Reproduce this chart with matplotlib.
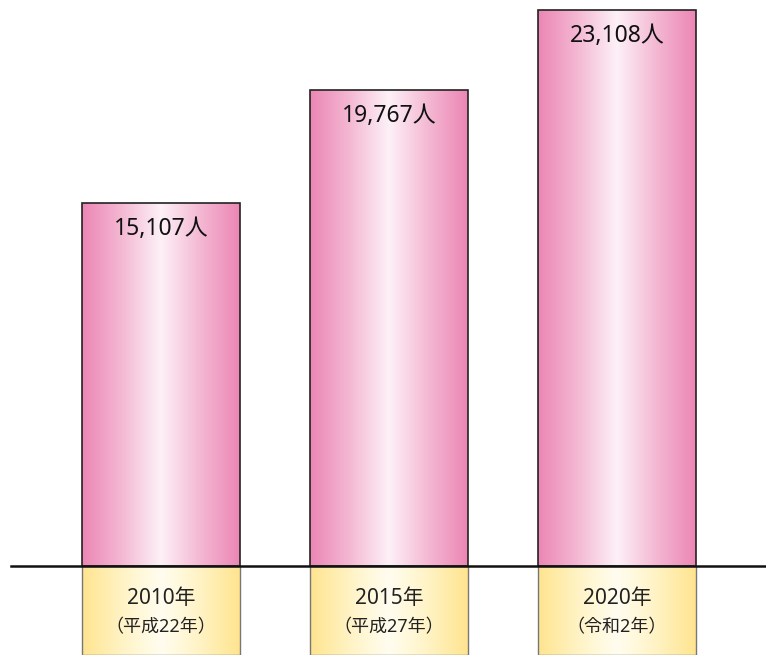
import numpy as np
import matplotlib
matplotlib.use("Agg")
import matplotlib.pyplot as plt
from matplotlib.colors import LinearSegmentedColormap

plt.rcParams['font.family'] = ['Noto Sans', 'Noto Sans CJK JP', 'DejaVu Sans']

years = ["2010年", "2015年", "2020年"]
eras = ["（平成22年）", "（平成27年）", "（令和2年）"]
values = [15107, 19767, 23108]
labels = ["15,107人", "19,767人", "23,108人"]

W, H = 766, 655
fig = plt.figure(figsize=(W / 100, H / 100), dpi=100)
ax = fig.add_axes([0, 0, 1, 1])

per_px = 41.56          # people per pixel
base_px = 89            # baseline height from bottom
ymin = -base_px * per_px
ymax = (H - base_px) * per_px

pink = LinearSegmentedColormap.from_list("pink", ["#ec86b4", "#f4b8d3", "#fdf1f7", "#f4b8d3", "#ec86b4"])
yellow = LinearSegmentedColormap.from_list("yel", ["#ffe48f", "#fff3c4", "#fffdf0", "#fff3c4", "#ffe48f"])
grad = np.linspace(0, 1, 256).reshape(1, -1)

x = np.arange(len(values))
width = 0.693

bars = ax.bar(x, values, width, facecolor="none", edgecolor="#222222", linewidth=1.2, zorder=3)
boxes = ax.bar(x, [ymin] * len(values), width, facecolor="none", edgecolor="#777777", linewidth=1.0, zorder=3)

for b in list(bars) + list(boxes):
    cm = pink if b in bars else yellow
    x0, y0 = b.get_x(), b.get_y()
    w, h = b.get_width(), b.get_height()
    im = ax.imshow(grad, cmap=cm, aspect="auto", extent=(x0, x0 + w, min(y0, y0 + h), max(y0, y0 + h)), zorder=2)
    im.set_clip_path(b)

ax.set_xlim(-0.706, 2.654)
ax.set_ylim(ymin, ymax)
ax.axis("off")

ax.plot([-0.658, 2.654], [0, 0], color="#111111", linewidth=1.8, zorder=4)

for xi, v, lab in zip(x, values, labels):
    ax.annotate(lab, (xi, v), xytext=(0, -26), textcoords="offset pixels",
                ha="center", va="center", fontsize=16.5, color="#111111", zorder=5)

for xi, yr, era in zip(x, years, eras):
    ax.annotate(yr, (xi, 0), xytext=(0, -33), textcoords="offset pixels",
                ha="center", va="center", fontsize=15, color="#222222", zorder=5)
    ax.annotate(era, (xi, 0), xytext=(0, -61), textcoords="offset pixels",
                ha="center", va="center", fontsize=13, color="#222222", zorder=5)

fig.savefig("out.png", dpi=100)
